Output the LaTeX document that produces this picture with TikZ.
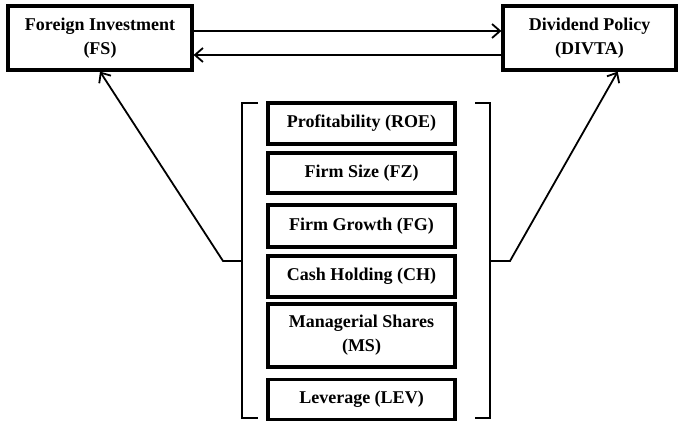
\documentclass[tikz,border=0pt]{standalone}
\usepackage{fontspec}
\setmainfont{Liberation Serif}
\usetikzlibrary{arrows.meta,positioning,calc}

\tikzset{
  varbox/.style={draw,line width=3.2pt,align=center,inner sep=0pt,
    font=\fontsize{18}{24}\selectfont\bfseries},
  conn/.style={line width=1.8pt,-{Straight Barb[length=8pt,width=14pt,line width=1.8pt]}},
  brack/.style={line width=1.8pt}
}

\begin{document}
\begin{tikzpicture}[x=1pt,y=-1pt]
  \useasboundingbox (0,0) rectangle (679,422);
  % main variables
  \node[varbox,minimum width=184pt,minimum height=64pt] (fs) at (100,38)
    {Foreign Investment\\(FS)};
  \node[varbox,minimum width=173pt,minimum height=64pt] (divta) at (589.5,38)
    {Dividend Policy\\(DIVTA)};
  % control variables
  \node[varbox,minimum width=187pt,minimum height=41pt] (roe) at (361.5,123.5) {Profitability (ROE)};
  \node[varbox,minimum width=187pt,minimum height=40pt] (fz)  at (361.5,173) {Firm Size (FZ)};
  \node[varbox,minimum width=187pt,minimum height=42pt] (fg)  at (361.5,226) {Firm Growth (FG)};
  \node[varbox,minimum width=187pt,minimum height=41pt] (ch)  at (361.5,276.5) {Cash Holding (CH)};
  \node[varbox,minimum width=187pt,minimum height=63pt] (ms)  at (361.5,335.5) {Managerial Shares\\(MS)};
  \node[varbox,minimum width=187pt,minimum height=40pt] (lev) at (361.5,399.5) {Leverage (LEV)};
  % brackets round the controls
  \draw[brack] (258,103) -- (242,103) -- (242,418) -- (258,418);
  \draw[brack] (475,103) -- (490,103) -- (490,418) -- (475,418);
  \coordinate (ltip) at (242,261);
  \coordinate (lknee) at (223,261);
  \coordinate (rtip) at (490,261);
  \coordinate (rknee) at (510,261);
  % links
  \draw[conn] ([yshift=7pt]fs.east) -- ([yshift=7pt]divta.west);
  \draw[conn] ([yshift=-17pt]divta.west) -- ([yshift=-17pt]fs.east);
  \draw[conn] (ltip) -- (lknee) -- (fs.south);
  \draw[conn] (rtip) -- (rknee) -- ($(divta.south west)!0.66!(divta.south east)$);
\end{tikzpicture}
\end{document}
